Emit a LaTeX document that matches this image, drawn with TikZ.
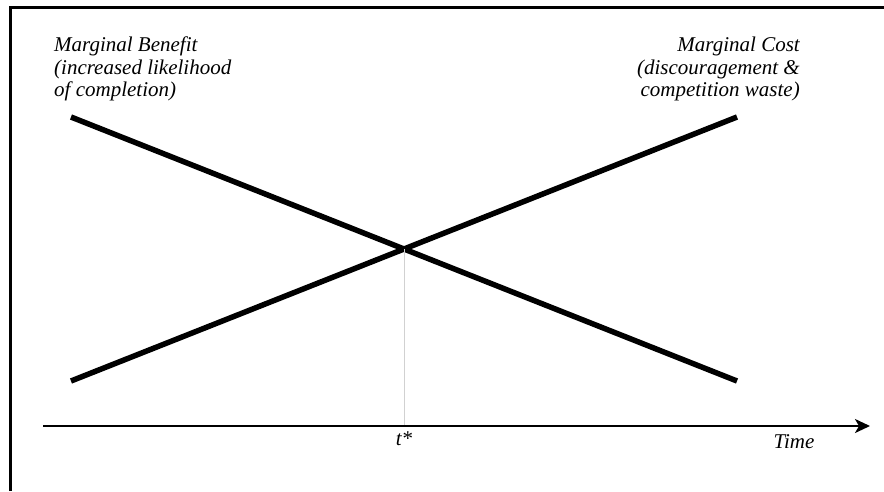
\documentclass[tikz,border=0pt]{standalone}
\usepackage{fontspec}
\setmainfont{Liberation Serif}
\usetikzlibrary{arrows.meta}
\begin{document}
\begin{tikzpicture}[x=1pt,y=-1pt,
  curve/.style={line width=5.5pt},
  frameline/.style={line width=3pt},
  axisline/.style={line width=2.2pt,-{Stealth[length=15pt,width=14pt,inset=4pt]}},
  guide/.style={draw=black!18,line width=0.8pt},
  lab/.style={font=\fontsize{21}{22.5}\selectfont\itshape,inner sep=0pt}]
\useasboundingbox (0,0) rectangle (884,491);
% frame (left and top edges)
\coordinate (fbl) at (10.5,491);
\coordinate (ftl) at (10.5,7);
\coordinate (ftr) at (884,7);
\draw[frameline] (fbl) -- (ftl) -- (ftr);
% curves
\coordinate (b0) at (71,117);
\coordinate (b1) at (737,381);
\coordinate (c0) at (71,381);
\coordinate (c1) at (737,117);
\draw[curve] (b0) -- (b1);
\draw[curve] (c0) -- (c1);
\coordinate (x) at (404,249);
% axis
\coordinate (ax0) at (43,426);
\coordinate (ax1) at (870,426);
\draw[guide] (x) -- (x |- ax0);
\draw[axisline] (ax0) -- (ax1);
% labels
\node[lab,anchor=north west,align=left] (mb) at (54,37)
  {Marginal Benefit\\(increased likelihood\\of completion)};
\node[lab,anchor=north east,align=right] (mc) at (800,37)
  {Marginal Cost\\(discouragement \&\\competition waste)};
\node[lab,anchor=base] (ts) at (404,445) {t*};
\node[lab,anchor=base] (tm) at (794,448) {Time};
\end{tikzpicture}
\end{document}
